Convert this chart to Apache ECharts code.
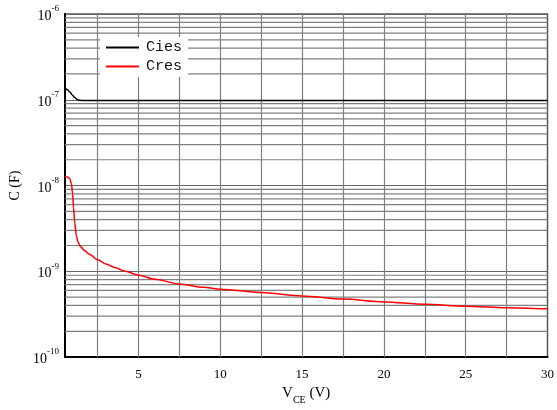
<!DOCTYPE html>
<html>
<head>
<meta charset="utf-8">
<script src="https://cdn.jsdelivr.net/npm/echarts@6/dist/echarts.min.js"></script>
<style>html,body{margin:0;padding:0;background:#fff}#c{width:557px;height:410px}</style>
</head>
<body>
<div id="c"></div>
<script>
var ciesX = [0.5, 0.65, 0.8, 0.95, 1.1, 1.25, 1.4, 1.7, 2, 3, 5, 10, 15, 20, 25, 30];
var ciesY = [1.37e-7, 1.31e-7, 1.23e-7, 1.14e-7, 1.06e-7, 1.01e-7, 0.985e-7, 0.98e-7, 0.98e-7, 0.98e-7, 0.98e-7, 0.98e-7, 0.98e-7, 0.98e-7, 0.98e-7, 0.98e-7];
var cresX = [0.5, 0.65, 0.8, 0.9, 0.97, 1.03, 1.1, 1.2, 1.3, 1.45, 1.7, 2, 2.5, 3, 3.6, 4.2, 5, 6, 7.5, 9, 10, 12.5, 15, 17.5, 20, 22.5, 25, 27.5, 30];
var cresY = [1.28e-8, 1.26e-8, 1.2e-8, 1.05e-8, 8.0e-9, 5.5e-9, 3.7e-9, 2.6e-9, 2.2e-9, 1.95e-9, 1.75e-9, 1.58e-9, 1.36e-9, 1.22e-9, 1.1e-9, 1.0e-9, 9.0e-10, 8.1e-10, 7.1e-10, 6.5e-10, 6.2e-10, 5.65e-10, 5.15e-10, 4.75e-10, 4.4e-10, 4.13e-10, 3.92e-10, 3.77e-10, 3.65e-10];
var xLabelValues = [5, 10, 15, 20, 25, 30];
var xGridValues = [2.5, 5, 7.5, 10, 12.5, 15, 17.5, 20, 22.5, 25, 27.5];
var yMinorMantissas = [2, 3, 4, 5, 6, 7, 8, 9];
var yDecades = [-10, -9, -8, -7];
var xRange = [0.5, 30];

function pairs(xs, ys) { return xs.map(function (x, i) { return [x, ys[i]]; }); }

var serif = '"Liberation Serif", "Times New Roman", serif';
var gridStyle = { color: '#808080', width: 1.2, type: 'solid' };

var series = [];
series.push({
  name: 'vgrid', type: 'line', data: [], silent: true,
  markLine: { silent: true, symbol: 'none', animation: false, label: { show: false },
    lineStyle: gridStyle, data: xGridValues.map(function (v) { return { xAxis: v }; }) }
});
yDecades.forEach(function (d) {
  yMinorMantissas.forEach(function (m) {
    var v = m * Math.pow(10, d);
    series.push({ name: 'h' + v, type: 'line', silent: true, showSymbol: false, symbol: 'none',
      data: [[xRange[0], v], [xRange[1], v]], lineStyle: gridStyle, itemStyle: { color: '#808080' }, z: 1 });
  });
});
series.push({ name: 'Cies', type: 'line', data: pairs(ciesX, ciesY), showSymbol: false, smooth: 0.3, smoothMonotone: 'x',
  lineStyle: { color: '#000', width: 1.5 }, itemStyle: { color: '#000' }, z: 5 });
series.push({ name: 'Cres', type: 'line', data: pairs(cresX, cresY), showSymbol: false, smooth: 0.3, smoothMonotone: 'x',
  lineStyle: { color: '#ff0000', width: 1.5 }, itemStyle: { color: '#ff0000' }, z: 5 });

var chart = echarts.init(document.getElementById('c'));
chart.setOption({
  animation: false,
  backgroundColor: '#fff',
  grid: { left: 62, right: 6, top: 14, bottom: 47, show: true, borderColor: '#555', borderWidth: 1.5, backgroundColor: 'transparent' },
  legend: {
    left: 100, top: 37, orient: 'vertical', icon: 'rect', itemWidth: 33, itemHeight: 2, itemGap: 4,
    padding: [3, 6, 3, 6], backgroundColor: '#fff', z: 10,
    textStyle: { fontFamily: '"Liberation Mono", monospace', fontSize: 15, color: '#111', padding: [0, 0, 0, 2] },
    data: ['Cies', 'Cres']
  },
  xAxis: {
    type: 'value', min: xRange[0], max: xRange[1],
    name: '{v|V}{s|CE}{v| (V)}', nameLocation: 'middle', nameGap: 24,
    nameTextStyle: { fontFamily: serif, color: '#000', rich: {
      v: { fontFamily: serif, fontSize: 15, color: '#000', verticalAlign: 'top', padding: [0, 0, 4, 0] },
      s: { fontFamily: serif, fontSize: 10, color: '#000', verticalAlign: 'bottom' }
    } },
    axisLine: { show: true, onZero: false, lineStyle: { color: '#000', width: 2 } },
    axisTick: { show: false },
    splitLine: { show: false },
    axisLabel: { customValues: xLabelValues, fontFamily: serif, fontSize: 13, color: '#000', margin: 11 }
  },
  yAxis: {
    type: 'log', logBase: 10, min: 1e-10, max: 1e-6,
    name: 'C (F)', nameLocation: 'middle', nameGap: 37, nameRotate: 90,
    nameTextStyle: { fontFamily: serif, fontSize: 14, color: '#000' },
    axisLine: { show: true, lineStyle: { color: '#000', width: 2 } },
    axisTick: { show: false },
    splitLine: { show: true, lineStyle: { color: '#666', width: 1.2 } },
    axisLabel: {
      margin: 6,
      formatter: function (v) { return '{b|10}{s|' + Math.round(Math.log10(v)) + '}'; },
      rich: {
        b: { fontFamily: serif, fontSize: 14, color: '#000', verticalAlign: 'bottom', padding: [5, 0, 0, 0] },
        s: { fontFamily: serif, fontSize: 9, color: '#000', verticalAlign: 'top' }
      }
    }
  },
  series: series
});
</script>
</body>
</html>
